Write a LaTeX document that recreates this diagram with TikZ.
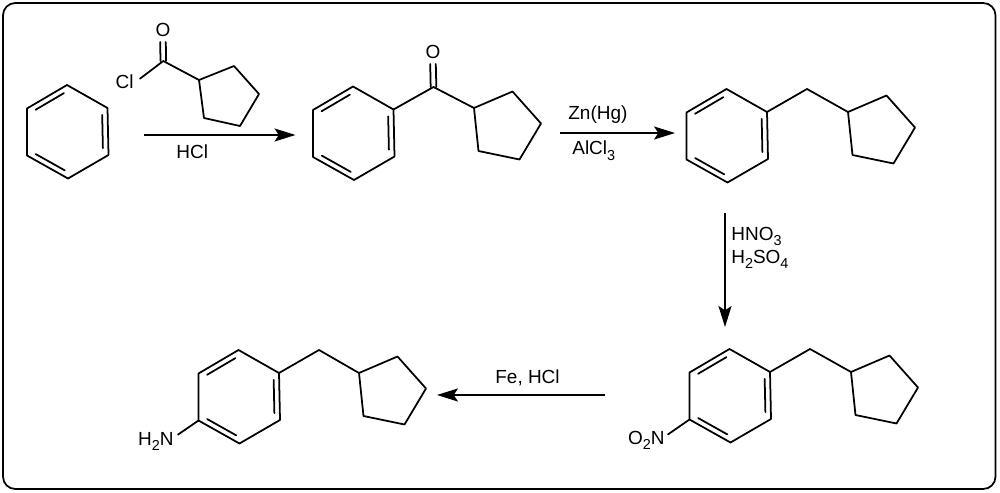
\documentclass[tikz,border=0pt]{standalone}
\usepackage{fontspec}
\setmainfont{Liberation Sans}
\usetikzlibrary{arrows.meta}
\usetikzlibrary{calc}
\newcommand{\innerbond}[3]{\draw[bond] ($($(#1)!.09!(#2)$)!.135!(#3)$) -- ($($(#2)!.09!(#1)$)!.135!(#3)$);}
\newcommand{\lowered}[1]{\raisebox{-0.5ex}{\fontsize{8.2}{9}\selectfont #1}}
% six-membered ring around (#2,#3), atoms #1a to #1f
\newcommand{\phenyl}[3]{
\begin{scope}[shift={(#2,#3)}]
\coordinate (#1o) at (0,0);
\coordinate (#1a) at (-40.5,-23);
\coordinate (#1b) at (-0.5,-46.5);
\coordinate (#1c) at (40,-23.5);
\coordinate (#1d) at (41,23.5);
\coordinate (#1e) at (0.5,47);
\coordinate (#1f) at (-40.5,24);
\end{scope}
\draw[bond] (#1a) -- (#1b) -- (#1c) -- (#1d) -- (#1e) -- (#1f) -- cycle;
\innerbond{#1a}{#1b}{#1o}
\innerbond{#1c}{#1d}{#1o}
\innerbond{#1e}{#1f}{#1o}
}
% five-membered ring hanging from (#2,#3)
\newcommand{\cyclopentyl}[3]{
\begin{scope}[shift={(#2,#3)}]
\coordinate (#1p) at (0,0);
\coordinate (#1q) at (38.5,-16.5);
\coordinate (#1r) at (67,15.5);
\coordinate (#1s) at (45.5,51.5);
\coordinate (#1t) at (4.5,43);
\end{scope}
\draw[bond] (#1p) -- (#1q) -- (#1r) -- (#1s) -- (#1t) -- cycle;
}
\newcommand{\carbonyl}[2]{
\draw[bond] ([xshift=-1.6pt]#1) -- ([shift={(-2.8,5)}]#2.south);
\draw[bond] ([xshift=1.6pt]#1) -- ([shift={(2.8,5)}]#2.south);
}
\begin{document}
\begin{tikzpicture}[x=0.02cm, y=-0.02cm,
  bond/.style={line width=1pt, line join=round, line cap=round},
  reaction/.style={line width=1pt, -{Stealth[length=11.9pt, width=7.4pt, inset=2.4pt]}},
  atomlabel/.style={inner sep=0pt, font=\fontsize{10.8}{13}\selectfont},
  reagent/.style={atomlabel, anchor=base west}]
\useasboundingbox (0,0) rectangle (1000,493);
\draw[line width=1pt, rounded corners=7pt] (3,3) rectangle (995.5,489);

% benzene
\phenyl{A}{67.5}{131.5}

% acid chloride
\coordinate (Rc) at (163.3,61);
\coordinate (Rp) at (199,80);
\coordinate (Rq) at (234,66);
\coordinate (Rr) at (259,94);
\coordinate (Rs) at (240,126);
\coordinate (Rt) at (204,118);
\node(Ro) [atomlabel] at (163,30) {O};
\node(Rcl) [atomlabel] at (124.7,82) {Cl};
\carbonyl{Rc}{Ro}
\draw[bond] ([shift={(6,4)}]Rcl.north east) -- (Rc) -- (Rp);
\draw[bond] (Rp) -- (Rq) -- (Rr) -- (Rs) -- (Rt) -- cycle;

% ketone
\phenyl{B}{353.5}{133}
\cyclopentyl{Bk}{474}{108}
\coordinate (Bl) at (433.5,87);
\node(Bo) [atomlabel] at (433,52) {O};
\carbonyl{Bl}{Bo}
\draw[bond] (Bc) -- (Bl) -- (Bkp);

% alkyl benzene
\phenyl{C}{727}{135.5}
\cyclopentyl{Ck}{848}{112}
\coordinate (Cl) at (807,89);
\draw[bond] (Cc) -- (Cl) -- (Ckp);

% nitro compound
\phenyl{D}{730}{395.5}
\cyclopentyl{Dk}{851}{372}
\coordinate (Dl) at (810,349);
\node(Dn) [atomlabel, anchor=base east] at (665,444) {O\lowered{2}N};
\draw[bond] (Dc) -- (Dl) -- (Dkp);
\draw[bond] (Df) -- ([shift={(3,4)}]Dn.north east);

% aniline
\phenyl{E}{239}{396.5}
\cyclopentyl{Ek}{359}{373}
\coordinate (El) at (319,350);
\node(En) [atomlabel, anchor=base east] at (174,445) {H\lowered{2}N};
\draw[bond] (Ec) -- (El) -- (Ekp);
\draw[bond] (Ef) -- ([shift={(4,3)}]En.north east);

% arrows
\coordinate (S1) at (144,135);
\coordinate (T1) at (295.5,135);
\coordinate (S2) at (560,133);
\coordinate (T2) at (675,133);
\coordinate (S3) at (725,213);
\coordinate (T3) at (725,327);
\coordinate (S4) at (605,395);
\coordinate (T4) at (437,395);
\draw[reaction] (S1) -- (T1);
\draw[reaction] (S2) -- (T2);
\draw[reaction] (S3) -- (T3);
\draw[reaction] (S4) -- (T4);

\node(L1) [reagent] at (176,159) {HCl};
\node(L2) [reagent] at (568,120) {Zn(Hg)};
\node(L3) [reagent] at (572,155) {AlCl\lowered{3}};
\node(L4) [reagent] at (731,240) {HNO\lowered{3}};
\node(L5) [reagent] at (731,263) {H\lowered{2}SO\lowered{4}};
\node(L6) [reagent] at (495,383) {Fe, HCl};
\end{tikzpicture}
\end{document}
